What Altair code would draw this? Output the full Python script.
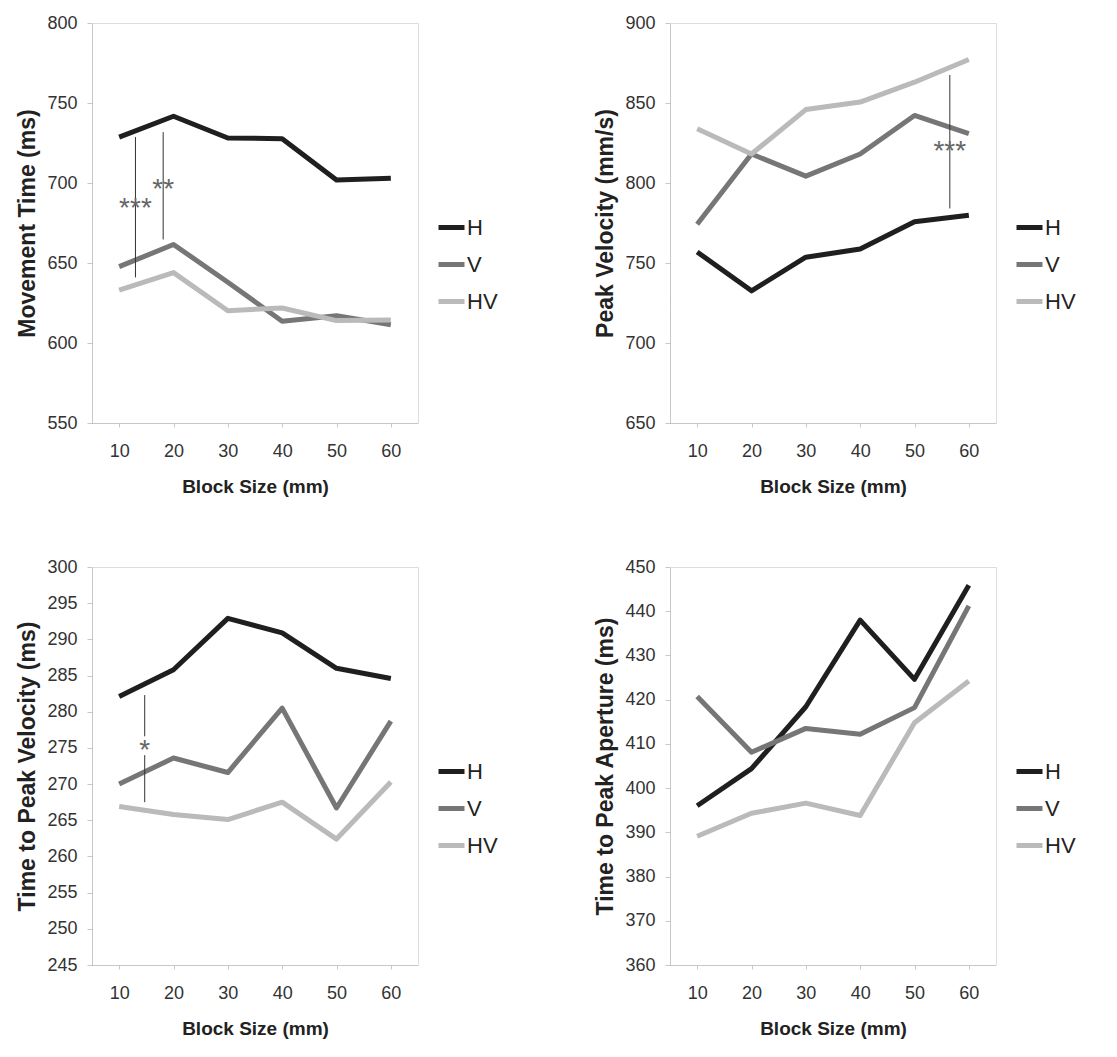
import altair as alt
import pandas as pd

# ---------------- data ----------------
sizes = [10, 20, 30, 40, 50, 60]
groups = ["H", "V", "HV"]
colors = ["#1f1f1f", "#767676", "#bababa"]

# Movement Time (ms)
mt_H = [728.7, 741.7, 728.1, 727.7, 701.9, 702.9]
mt_V = [647.7, 661.6, 638.0, 613.6, 617.1, 611.4]
mt_HV = [633.1, 644.0, 620.2, 621.9, 614.0, 614.3]

# Peak Velocity (mm/s)
pv_H = [756.9, 732.6, 753.6, 758.7, 775.8, 779.9]
pv_V = [774.2, 818.1, 804.3, 818.1, 842.2, 830.8]
pv_HV = [833.9, 818.1, 845.9, 850.6, 863.0, 877.2]

# Time to Peak Velocity (ms)
tpv_H = [282.1, 285.8, 292.9, 290.9, 286.0, 284.6]
tpv_V = [270.0, 273.6, 271.6, 280.5, 266.7, 278.7]
tpv_HV = [266.9, 265.8, 265.1, 267.5, 262.4, 270.3]

# Time to Peak Aperture (ms)
tpa_H = [396.0, 404.4, 418.4, 438.0, 424.6, 445.9]
tpa_V = [420.7, 408.1, 413.5, 412.2, 418.2, 441.2]
tpa_HV = [389.1, 394.3, 396.6, 393.8, 414.8, 424.2]

# significance annotations: segment x, top, bottom ; label x, y, text
mt_seg_x = [13.0, 18.1]
mt_seg_top = [728.7, 731.8]
mt_seg_bot = [641.0, 664.7]
mt_lab_x = [13.0, 18.1]
mt_lab_y = [687.4, 699.5]
mt_lab = ["***", "**"]

pv_seg_x = [56.5]
pv_seg_top = [867.5]
pv_seg_bot = [784.1]
pv_lab_x = [56.5]
pv_lab_y = [823.2]
pv_lab = ["***"]

tpv_seg_x = [14.7, 14.7]
tpv_seg_top = [282.3, 274.0]
tpv_seg_bot = [276.6, 267.5]
tpv_lab_x = [14.7]
tpv_lab_y = [275.4]
tpv_lab = ["*"]

FONT = "Liberation Sans"


def make_panel(H, V, HV, ytitle, ydomain, yticks, height,
               seg_x, seg_top, seg_bot, lab_x, lab_y, lab):
    df = pd.DataFrame({
        "size": sizes * 3,
        "group": ["H"] * 6 + ["V"] * 6 + ["HV"] * 6,
        "value": H + V + HV,
    })
    seg = pd.DataFrame({"size": seg_x, "value": seg_top, "value2": seg_bot})
    txt = pd.DataFrame({"size": lab_x, "value": lab_y, "label": lab})

    xaxis = alt.Axis(values=sizes, title="Block Size (mm)", grid=False,
                     labelFont=FONT, labelFontSize=18, labelColor="#333333",
                     labelPadding=15, tickSize=4, tickColor="#c8c8c8",
                     domainColor="#b0b0b0", domainDash=[1, 1],
                     titleFont=FONT, titleFontSize=19, titleFontWeight="bold",
                     titleColor="#222222", titlePadding=17)
    yaxis = alt.Axis(values=yticks, title=ytitle, grid=False,
                     labelFont=FONT, labelFontSize=18, labelColor="#333333",
                     labelPadding=10, tickSize=5, tickColor="#c8c8c8",
                     domainColor="#b0b0b0", domainDash=[1, 1],
                     titleFont=FONT, titleFontSize=23, titleFontWeight="bold",
                     titleColor="#222222", titlePadding=7)
    X = alt.X("size:Q", scale=alt.Scale(domain=[5, 65], nice=False, zero=False),
              axis=xaxis)
    Y = alt.Y("value:Q", scale=alt.Scale(domain=ydomain, nice=False, zero=False),
              axis=yaxis)

    lines = alt.Chart(df).mark_line(strokeWidth=5, strokeJoin="round").encode(
        x=X, y=Y,
        color=alt.Color(
            "group:N",
            scale=alt.Scale(domain=groups, range=colors),
            sort=groups,
            legend=alt.Legend(
                title=None, orient="none", legendX=344, legendY=189,
                symbolType="stroke", symbolStrokeWidth=5, symbolSize=676,
                labelFont=FONT, labelFontSize=22, labelColor="#222222",
                labelOffset=0, rowPadding=10,
            ),
        ),
    )
    rules = alt.Chart(seg).mark_rule(color="#333333", strokeWidth=1).encode(
        x=X, y=Y, y2="value2:Q")
    texts = alt.Chart(txt).mark_text(
        font=FONT, fontSize=28, color="#666666", baseline="middle", dy=6
    ).encode(x=X, y=Y, text="label:N")
    return alt.layer(lines, rules, texts).properties(width=326, height=height)


p1 = make_panel(mt_H, mt_V, mt_HV, "Movement Time (ms)", [550, 800],
                [550, 600, 650, 700, 750, 800], 400,
                mt_seg_x, mt_seg_top, mt_seg_bot, mt_lab_x, mt_lab_y, mt_lab)
p2 = make_panel(pv_H, pv_V, pv_HV, "Peak Velocity (mm/s)", [650, 900],
                [650, 700, 750, 800, 850, 900], 400,
                pv_seg_x, pv_seg_top, pv_seg_bot, pv_lab_x, pv_lab_y, pv_lab)
p3 = make_panel(tpv_H, tpv_V, tpv_HV, "Time to Peak Velocity (ms)", [245, 300],
                list(range(245, 301, 5)), 398,
                tpv_seg_x, tpv_seg_top, tpv_seg_bot, tpv_lab_x, tpv_lab_y, tpv_lab)
p4 = make_panel(tpa_H, tpa_V, tpa_HV, "Time to Peak Aperture (ms)", [360, 450],
                list(range(360, 451, 10)), 398,
                [], [], [], [], [], [])

chart = alt.concat(p1, p2, p3, p4, columns=2,
                   spacing={"row": 144, "column": 252},
                   bounds="flush").resolve_scale(
    color="independent").resolve_legend(color="independent").properties(
    padding={"left": 8, "top": 5, "right": 5, "bottom": 5}
).configure_view(stroke=None).configure(background="white")

chart.save("out.html", embed_options={"renderer": "svg", "actions": False})
